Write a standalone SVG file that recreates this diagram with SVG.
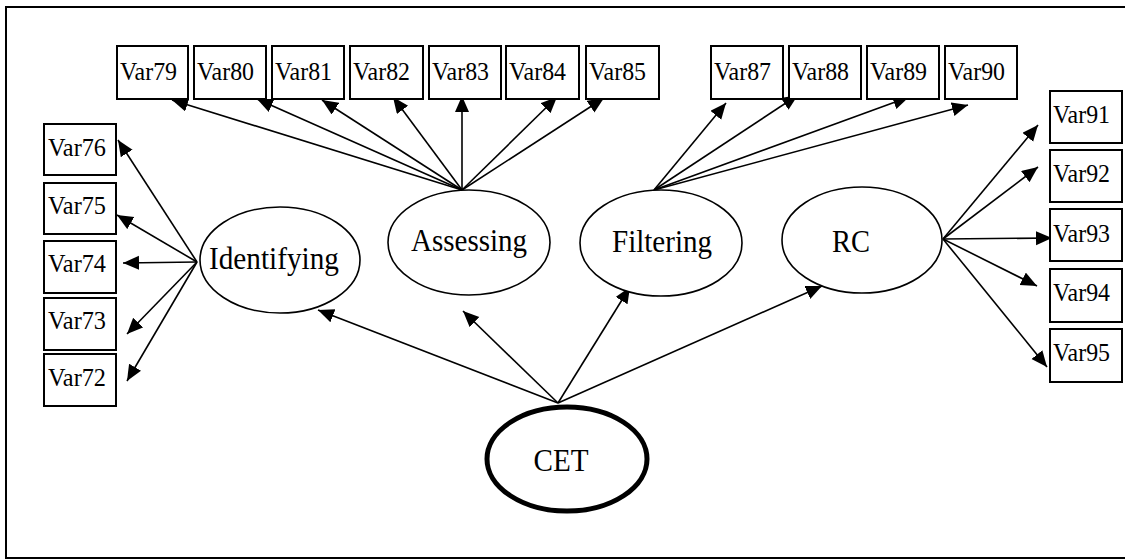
<svg xmlns="http://www.w3.org/2000/svg" width="1125" height="560" viewBox="0 0 1125 560">
  <style>
    .box { fill: #fff; stroke: #000; stroke-width: 2; }
    .lat { fill: #fff; stroke: #000; stroke-width: 1.6; }
    .lbl { font-size: 26px; fill: #000; }
    .big { font-size: 31px; fill: #000; text-anchor: middle; }
    .edge { stroke: #000; stroke-width: 1.6; fill: none; marker-end: url(#arrow); }
  </style>
  <defs>
    <marker id="arrow" markerUnits="userSpaceOnUse" markerWidth="17" markerHeight="15" refX="16" refY="7" orient="auto">
      <path d="M0,0 L16,7 L0,14 z" fill="#000"/>
    </marker>
  </defs>

  <rect width="1125" height="560" fill="#fff"/>
  <!-- outer frame (right side runs past the canvas) -->
  <rect x="6" y="7" width="1130" height="551" fill="none" stroke="#000" stroke-width="2"/>

  <g id="connectors">
    <!-- Assessing indicators -->
    <line class="edge" x1="462" y1="190" x2="172" y2="100"/>
    <line class="edge" x1="462" y1="190" x2="257" y2="99"/>
    <line class="edge" x1="462" y1="190" x2="322" y2="100"/>
    <line class="edge" x1="462" y1="190" x2="393" y2="97"/>
    <line class="edge" x1="462" y1="190" x2="462" y2="96"/>
    <line class="edge" x1="462" y1="190" x2="557" y2="97"/>
    <line class="edge" x1="462" y1="190" x2="604" y2="98"/>
    <!-- Filtering indicators -->
    <line class="edge" x1="654" y1="190" x2="726" y2="103"/>
    <line class="edge" x1="654" y1="190" x2="798" y2="95"/>
    <line class="edge" x1="654" y1="190" x2="909" y2="97"/>
    <line class="edge" x1="654" y1="190" x2="968" y2="105"/>
    <!-- Identifying indicators -->
    <line class="edge" x1="197" y1="262" x2="118" y2="140"/>
    <line class="edge" x1="197" y1="262" x2="117" y2="215"/>
    <line class="edge" x1="197" y1="262" x2="123" y2="263"/>
    <line class="edge" x1="197" y1="262" x2="127" y2="334"/>
    <line class="edge" x1="197" y1="262" x2="127" y2="381"/>
    <!-- RC indicators -->
    <line class="edge" x1="943" y1="239" x2="1038" y2="125"/>
    <line class="edge" x1="943" y1="239" x2="1038" y2="167"/>
    <line class="edge" x1="943" y1="239" x2="1052" y2="238"/>
    <line class="edge" x1="943" y1="239" x2="1037" y2="286"/>
    <line class="edge" x1="943" y1="239" x2="1047" y2="367"/>
    <!-- CET to first-order factors -->
    <line class="edge" x1="558" y1="403" x2="318" y2="310"/>
    <line class="edge" x1="558" y1="403" x2="463" y2="311"/>
    <line class="edge" x1="558" y1="403" x2="630" y2="287"/>
    <line class="edge" x1="558" y1="403" x2="822" y2="286"/>
  </g>

  <g font-family="Liberation Serif, Times New Roman, DejaVu Serif, serif">
  <!-- top row of observed variables -->
  <g id="var79"><rect class="box" x="117" y="46" width="71" height="53"/><text class="lbl" x="120" y="80" textLength="57" lengthAdjust="spacingAndGlyphs">Var79</text></g>
  <g id="var80"><rect class="box" x="194" y="46" width="72" height="53"/><text class="lbl" x="197" y="80" textLength="57" lengthAdjust="spacingAndGlyphs">Var80</text></g>
  <g id="var81"><rect class="box" x="272" y="46" width="72" height="53"/><text class="lbl" x="275" y="80" textLength="57" lengthAdjust="spacingAndGlyphs">Var81</text></g>
  <g id="var82"><rect class="box" x="350" y="46" width="73" height="53"/><text class="lbl" x="353" y="80" textLength="57" lengthAdjust="spacingAndGlyphs">Var82</text></g>
  <g id="var83"><rect class="box" x="429" y="46" width="72" height="53"/><text class="lbl" x="432" y="80" textLength="57" lengthAdjust="spacingAndGlyphs">Var83</text></g>
  <g id="var84"><rect class="box" x="506" y="46" width="73" height="53"/><text class="lbl" x="509" y="80" textLength="57" lengthAdjust="spacingAndGlyphs">Var84</text></g>
  <g id="var85"><rect class="box" x="586" y="46" width="73" height="53"/><text class="lbl" x="589" y="80" textLength="57" lengthAdjust="spacingAndGlyphs">Var85</text></g>
  <g id="var87"><rect class="box" x="711" y="46" width="72" height="53"/><text class="lbl" x="714" y="80" textLength="57" lengthAdjust="spacingAndGlyphs">Var87</text></g>
  <g id="var88"><rect class="box" x="789" y="46" width="72" height="53"/><text class="lbl" x="792" y="80" textLength="57" lengthAdjust="spacingAndGlyphs">Var88</text></g>
  <g id="var89"><rect class="box" x="867" y="46" width="72" height="53"/><text class="lbl" x="870" y="80" textLength="57" lengthAdjust="spacingAndGlyphs">Var89</text></g>
  <g id="var90"><rect class="box" x="945" y="46" width="72" height="53"/><text class="lbl" x="948" y="80" textLength="57" lengthAdjust="spacingAndGlyphs">Var90</text></g>

  <!-- left column -->
  <g id="var76"><rect class="box" x="44" y="124" width="72" height="51"/><text class="lbl" x="48" y="156" textLength="58" lengthAdjust="spacingAndGlyphs">Var76</text></g>
  <g id="var75"><rect class="box" x="44" y="183" width="72" height="51"/><text class="lbl" x="48" y="214" textLength="58" lengthAdjust="spacingAndGlyphs">Var75</text></g>
  <g id="var74"><rect class="box" x="44" y="241" width="72" height="52"/><text class="lbl" x="48" y="272" textLength="58" lengthAdjust="spacingAndGlyphs">Var74</text></g>
  <g id="var73"><rect class="box" x="44" y="298" width="72" height="52"/><text class="lbl" x="48" y="329" textLength="58" lengthAdjust="spacingAndGlyphs">Var73</text></g>
  <g id="var72"><rect class="box" x="44" y="354" width="72" height="52"/><text class="lbl" x="48" y="386" textLength="58" lengthAdjust="spacingAndGlyphs">Var72</text></g>

  <!-- right column -->
  <g id="var91"><rect class="box" x="1050" y="91" width="72" height="52"/><text class="lbl" x="1053" y="123" textLength="57" lengthAdjust="spacingAndGlyphs">Var91</text></g>
  <g id="var92"><rect class="box" x="1050" y="150" width="72" height="52"/><text class="lbl" x="1053" y="182" textLength="57" lengthAdjust="spacingAndGlyphs">Var92</text></g>
  <g id="var93"><rect class="box" x="1050" y="209" width="72" height="52"/><text class="lbl" x="1053" y="242" textLength="57" lengthAdjust="spacingAndGlyphs">Var93</text></g>
  <g id="var94"><rect class="box" x="1050" y="269" width="72" height="53"/><text class="lbl" x="1053" y="301" textLength="57" lengthAdjust="spacingAndGlyphs">Var94</text></g>
  <g id="var95"><rect class="box" x="1050" y="329" width="72" height="53"/><text class="lbl" x="1053" y="361" textLength="57" lengthAdjust="spacingAndGlyphs">Var95</text></g>

  <!-- latent factors -->
  <g id="identifying"><ellipse class="lat" cx="280" cy="260" rx="80" ry="53"/><text class="big" x="274" y="269" textLength="130" lengthAdjust="spacingAndGlyphs">Identifying</text></g>
  <g id="assessing"><ellipse class="lat" cx="469" cy="242.5" rx="81" ry="52.5"/><text class="big" x="469" y="251" textLength="116" lengthAdjust="spacingAndGlyphs">Assessing</text></g>
  <g id="filtering"><ellipse class="lat" cx="661" cy="243" rx="81" ry="53"/><text class="big" x="662" y="252" textLength="100" lengthAdjust="spacingAndGlyphs">Filtering</text></g>
  <g id="rc"><ellipse class="lat" cx="862" cy="240" rx="80" ry="53"/><text class="big" x="851" y="252" textLength="38" lengthAdjust="spacingAndGlyphs">RC</text></g>
  <g id="cet"><ellipse cx="567" cy="459" rx="80" ry="52" fill="#fff" stroke="#000" stroke-width="5"/><text class="big" x="561" y="471" textLength="55" lengthAdjust="spacingAndGlyphs">CET</text></g>
  </g>
</svg>
